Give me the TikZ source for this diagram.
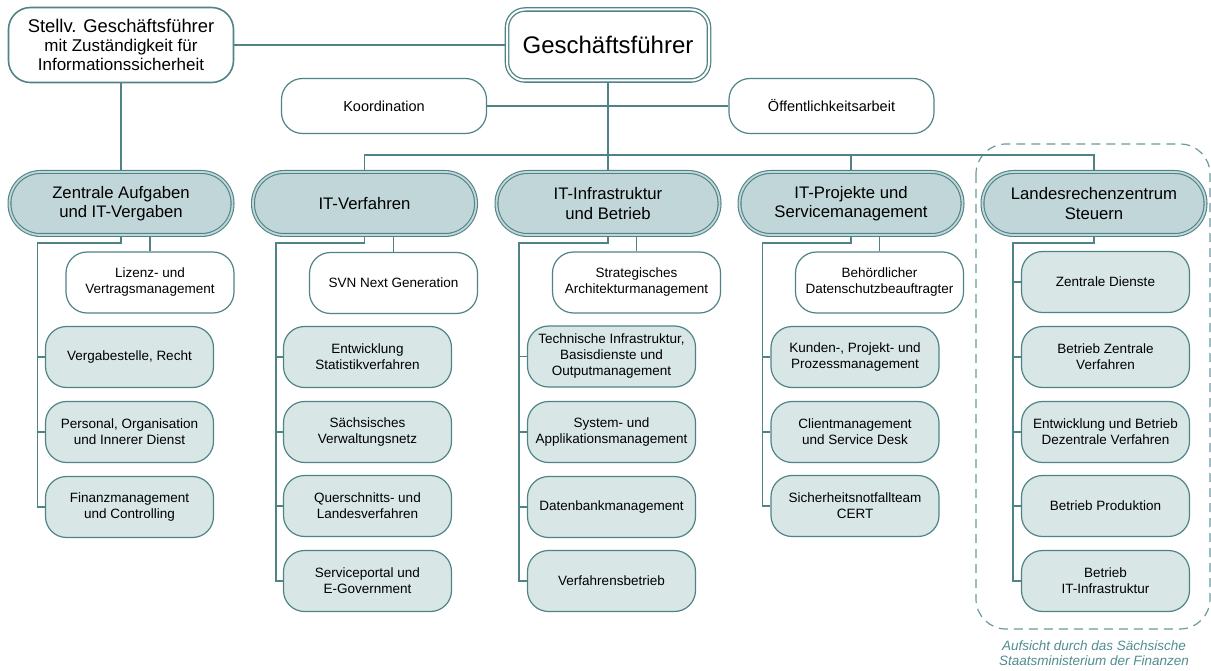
\documentclass[tikz,border=0pt]{standalone}
\usepackage{fontspec}
\setmainfont{Liberation Sans}
\usepackage{xcolor}
\usepackage{tikz}
\usetikzlibrary{positioning,calc}

\definecolor{tealline}{HTML}{4F8386}
\definecolor{headfill}{HTML}{C1D6D8}
\definecolor{subfill}{HTML}{D8E6E6}
\definecolor{notetext}{HTML}{4F8C8E}
\definecolor{dashline}{HTML}{6A9A9C}

\tikzset{
    conn/.style={draw=tealline, line width=1.2pt},
    stvbox/.style={draw=tealline, line width=1.6pt, fill=white, rounded corners=22pt,
        minimum width=225pt, minimum height=75pt, inner sep=0pt, align=center,
        font=\fontsize{17}{19}\selectfont},
    gfbox/.style={draw=tealline, line width=1.3pt, double=white, double distance=2pt,
        fill=white, rounded corners=18pt, minimum width=202pt, minimum height=71pt,
        inner sep=0pt, outer sep=2.3pt, font=\fontsize{24}{28}\selectfont},
    stabbox/.style={draw=tealline, line width=1.2pt, fill=white, rounded corners=21pt,
        minimum width=205pt, minimum height=55pt, inner sep=0pt,
        font=\fontsize{14.5}{17}\selectfont},
    headbox/.style={draw=tealline, line width=1.1pt, double=headfill, double distance=1.8pt,
        fill=headfill, rounded corners=31pt, minimum width=223pt, minimum height=63pt,
        inner sep=0pt, outer sep=2pt, align=center, font=\fontsize{16.7}{19.5}\selectfont},
    subbox/.style={draw=tealline, line width=1.2pt, fill=subfill, rounded corners=21pt,
        minimum width=168pt, minimum height=61pt, inner sep=0pt, align=center,
        font=\fontsize{13.5}{16}\selectfont},
    whitebox/.style={subbox, fill=white},
    aufsicht/.style={draw=dashline, line width=1.2pt, dash pattern=on 9pt off 6pt,
        rounded corners=30pt},
    note/.style={text=notetext, align=center, inner sep=0pt,
        font=\fontsize{13.5}{14.5}\selectfont\itshape}
}

\begin{document}
\begin{tikzpicture}[x=1pt, y=-1pt]
    \useasboundingbox (0,0) rectangle (1211,671);

    % Aufsicht frame
    \draw[aufsicht] (976,144) rectangle (1210,629);
    \node[note] (aufs) at (1094,653) {Aufsicht durch das Sächsische\\Staatsministerium der Finanzen};

    % Leitung
    \node[stvbox] (stv) at (121,45) {{\fontsize{18.4}{19}\selectfont Stellv. Geschäftsführer}\\mit Zuständigkeit für\\Informationssicherheit};
    \node[gfbox] (gf) at (608,45) {Geschäftsführer};
    \node[stabbox] (koord) at (384,106) {Koordination};
    \node[stabbox] (oeff) at (831.5,106) {Öffentlichkeitsarbeit};

    % Abteilungen
    \node[headbox] (zen) at (121,203.5) {Zentrale Aufgaben\\und IT-Vergaben};
    \node[headbox] (itv) at (364.5,203.5) {IT-Verfahren};
    \node[headbox] (itinf) at (608,203.5) {IT-Infrastruktur\\und Betrieb};
    \node[headbox] (itp) at (851,203.5) {IT-Projekte und\\Servicemanagement};
    \node[headbox] (lrz) at (1094,203.5) {Landesrechenzentrum\\Steuern};

    % Zentrale Aufgaben
    \node[whitebox] (zliz) at (150,282.5) {Lizenz- und\\Vertragsmanagement};
    \node[subbox] (zverg) at (129.5,357) {Vergabestelle, Recht};
    \node[subbox] (zpers) at (129.5,432) {Personal, Organisation\\und Innerer Dienst};
    \node[subbox] (zfin) at (129.5,507) {Finanzmanagement\\und Controlling};

    % IT-Verfahren
    \node[whitebox] (vsvn) at (393.5,283) {SVN Next Generation};
    \node[subbox] (vent) at (367.5,357) {Entwicklung\\Statistikverfahren};
    \node[subbox] (vsvw) at (367.5,432) {Sächsisches\\Verwaltungsnetz};
    \node[subbox] (vquer) at (367.5,506) {Querschnitts- und\\Landesverfahren};
    \node[subbox] (vport) at (367.5,581) {Serviceportal und\\E-Government};

    % IT-Infrastruktur
    \node[whitebox] (istrat) at (636.5,282.5) {Strategisches\\Architekturmanagement};
    \node[subbox] (itech) at (611.5,356.5) {Technische Infrastruktur,\\Basisdienste und\\Outputmanagement};
    \node[subbox] (isys) at (611.5,432) {System- und\\Applikationsmanagement};
    \node[subbox] (idb) at (611.5,507) {Datenbankmanagement};
    \node[subbox] (ibetr) at (611.5,581) {Verfahrensbetrieb};

    % IT-Projekte
    \node[whitebox] (pdsb) at (879.5,282.5) {Behördlicher\\Datenschutzbeauftragter};
    \node[subbox] (pkun) at (855,357) {Kunden-, Projekt- und\\Prozessmanagement};
    \node[subbox] (pcli) at (855,432) {Clientmanagement\\und Service Desk};
    \node[subbox] (pcert) at (855,506) {Sicherheitsnotfallteam\\CERT};

    % Landesrechenzentrum
    \node[subbox] (lzd) at (1105.5,282) {Zentrale Dienste};
    \node[subbox] (lbzv) at (1105.5,357) {Betrieb Zentrale\\Verfahren};
    \node[subbox] (ledv) at (1105.5,432) {Entwicklung und Betrieb\\Dezentrale Verfahren};
    \node[subbox] (lprod) at (1105.5,506) {Betrieb Produktion};
    \node[subbox] (lit) at (1105.5,581) {Betrieb\\IT-Infrastruktur};

    % Linien oben
    \draw[conn] (stv.east) -- (gf.west);
    \draw[conn] (stv.south) -- (zen.north);
    \draw[conn] (koord.east) -- (oeff.west);
    \draw[conn] (gf.south) -- (itinf.north);
    \draw[conn] (itv.north) -- ++(0,-15) -| (lrz.north);
    \draw[conn] (itp.north) -- ++(0,-15);

    % Linien unten
    \draw[conn] (zen.south) -- ++(0,6) -| ([xshift=-7.5pt]zfin.west) -- (zfin.west);
    \draw[conn] (itv.south) -- ++(0,6) -| ([xshift=-7pt]vport.west) -- (vport.west);
    \draw[conn] (itinf.south) -- ++(0,6) -| ([xshift=-8pt]ibetr.west) -- (ibetr.west);
    \draw[conn] (itp.south) -- ++(0,6) -| ([xshift=-8pt]pcert.west) -- (pcert.west);
    \draw[conn] (lrz.south) -- ++(0,6) -| ([xshift=-8pt]lit.west) -- (lit.west);
    \foreach \w/\h in {zliz/zen, vsvn/itv, istrat/itinf, pdsb/itp}
        \draw[conn] (\w.north) -- (\w.north |- \h.south);
    \foreach \b/\s in {zverg/7.5, zpers/7.5, vent/7, vsvw/7, vquer/7, itech/8, isys/8, idb/8,
                       pkun/8, pcli/8, lzd/8, lbzv/8, ledv/8, lprod/8}
        \draw[conn] ([xshift=-\s pt]\b.west) -- (\b.west);
\end{tikzpicture}
\end{document}
